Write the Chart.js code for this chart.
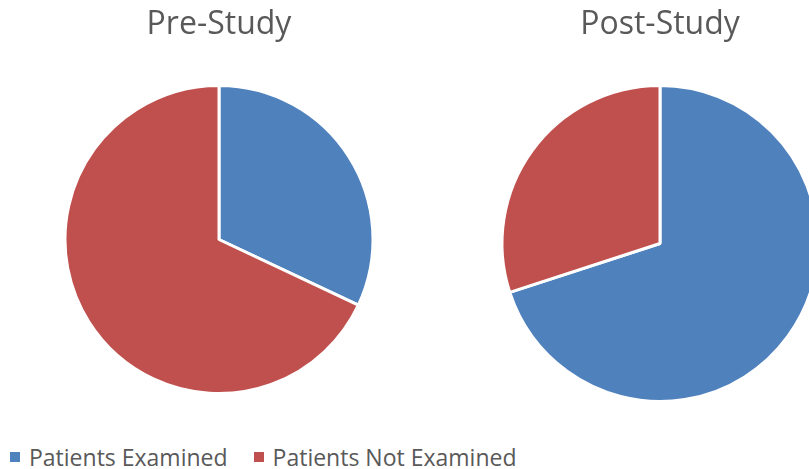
<!DOCTYPE html>
<html>
<head>
<meta charset="utf-8">
<script src="https://cdn.jsdelivr.net/npm/chart.js@4"></script>
<style>
  html, body { margin: 0; padding: 0; background: #fff; }
  body { width: 809px; height: 469px; position: relative; overflow: hidden; font-family: 'Open Sans', sans-serif; }
  .pie { position: absolute; top: 0; }
  #preBox { left: 0; width: 438px; height: 395px; }
  #postBox { left: 440px; width: 440px; height: 403px; }
  #legend { position: absolute; left: 10px; top: 442px; display: flex; color: #595959; font-size: 23px; line-height: 31px; white-space: nowrap; }
  #legend .item { display: flex; align-items: center; margin-right: 26px; }
  #legend .box { width: 10px; height: 10px; margin-right: 9px; margin-top: -2px; }
</style>
</head>
<body>
<div class="pie" id="preBox"><canvas id="preChart"></canvas></div>
<div class="pie" id="postBox"><canvas id="postChart"></canvas></div>
<div id="legend"></div>

<script>
// データ
const categories = ['Patients Examined', 'Patients Not Examined'];
const preStudy = [32, 68];
const postStudy = [70, 30];
const chartTitles = ['Pre-Study', 'Post-Study'];
const sliceColors = ['#4F81BD', '#C0504D'];

// 円グラフを作る
function makePie(id, title, values) {
  const ctx = document.getElementById(id).getContext('2d');
  return new Chart(ctx, {
    type: 'pie',
    data: {
      labels: categories,
      datasets: [{
        data: values,
        backgroundColor: sliceColors,
        borderColor: '#ffffff',
        borderWidth: 3
      }]
    },
    options: {
      responsive: true,
      maintainAspectRatio: false,
      animation: false,
      events: [],
      layout: { padding: 0 },
      plugins: {
        legend: { display: false }, // 凡例はHTMLで描く
        tooltip: { enabled: false },
        title: {
          display: true,
          text: title,
          color: '#595959',
          font: { family: "'Open Sans', sans-serif", size: 32, weight: 'normal' },
          padding: { top: 6, bottom: 39.6 }
        }
      }
    }
  });
}

makePie('preChart', chartTitles[0], preStudy);
makePie('postChart', chartTitles[1], postStudy);

// 凡例
const legend = document.getElementById('legend');
categories.forEach(function (name, i) {
  const item = document.createElement('div');
  item.className = 'item';
  const box = document.createElement('span');
  box.className = 'box';
  box.style.background = sliceColors[i];
  const label = document.createElement('span');
  label.textContent = name;
  item.appendChild(box);
  item.appendChild(label);
  legend.appendChild(item);
});
</script>
</body>
</html>
